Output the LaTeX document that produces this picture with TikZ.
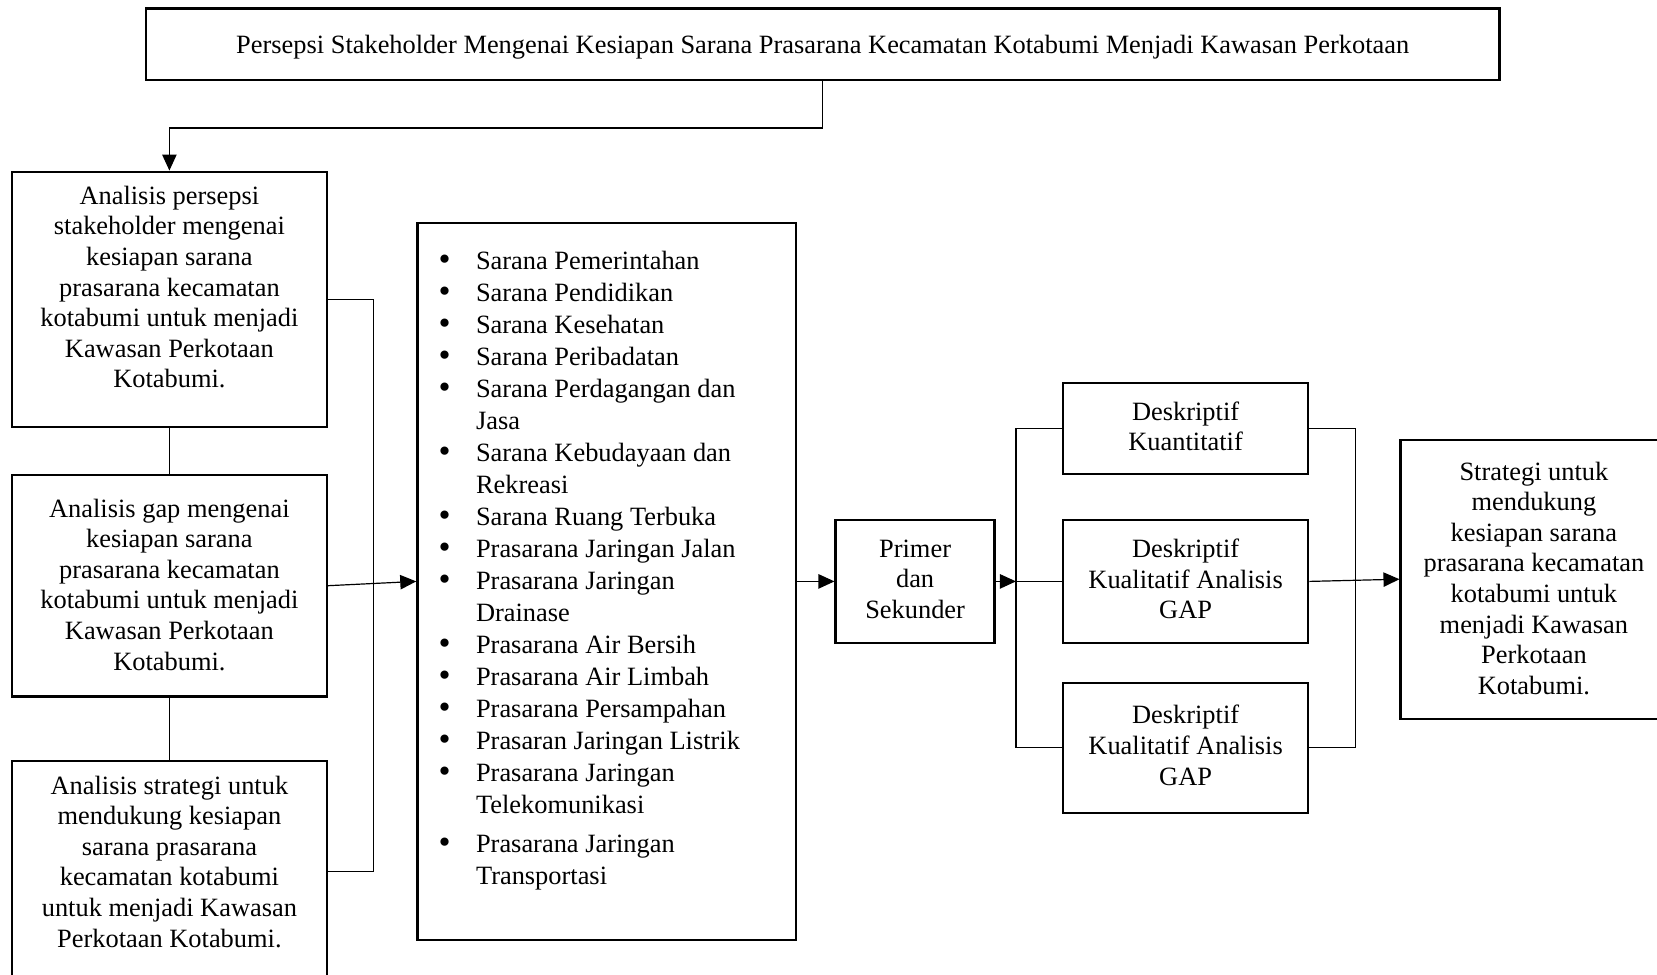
\documentclass[tikz,border=0pt]{standalone}
\usepackage{fontspec}
\setmainfont{Liberation Serif}
\usetikzlibrary{arrows.meta, positioning}

\newcommand{\blt}{\makebox[18.7pt][l]{\raisebox{-0.6pt}{\scalebox{1.3}{\textbullet}}}}
\newcommand{\cnt}{\makebox[18.7pt]{}}

\begin{document}
\begin{tikzpicture}[
    x=0.5pt, y=-0.5pt,
    box/.style={rectangle, draw=black, line width=1.15pt, align=center, inner sep=2pt, text depth=2.5pt, font=\fontsize{13.2}{15.3}\selectfont},
    listtext/.style={align=left, inner sep=0pt, font=\fontsize{13.2}{16}\selectfont},
    line/.style={line width=0.6pt},
    arrow/.style={line, -{Triangle[length=8pt, width=7.2pt]}}
]
\useasboundingbox (0,0) rectangle (1657,974);

\node[box, minimum width=676.7pt, minimum height=35.8pt, text depth=0pt] (title) at (822.7,44.2) {Persepsi Stakeholder Mengenai Kesiapan Sarana Prasarana Kecamatan Kotabumi Menjadi Kawasan Perkotaan};

\node[box, minimum width=157.3pt, minimum height=127.5pt, text depth=12.3pt] (a1) at (169.4,299.2) {Analisis persepsi\\stakeholder mengenai\\kesiapan sarana\\prasarana kecamatan\\kotabumi untuk menjadi\\Kawasan Perkotaan\\Kotabumi.};
\node[box, minimum width=157.3pt, minimum height=110.7pt, text depth=1.2pt, below=23pt of a1] (a2) {Analisis gap mengenai\\kesiapan sarana\\prasarana kecamatan\\kotabumi untuk menjadi\\Kawasan Perkotaan\\Kotabumi.};
\node[box, minimum width=157.3pt, minimum height=110.7pt, text depth=10pt, below=31pt of a2] (a3) {Analisis strategi untuk\\mendukung kesiapan\\sarana prasarana\\kecamatan kotabumi\\untuk menjadi Kawasan\\Perkotaan Kotabumi.};

\node[box, minimum width=189.3pt, minimum height=358.7pt] (lst) at (606.7,581.4) {};
\node[listtext, anchor=north west] (items) at ([xshift=11pt, yshift=-14.7pt]lst.north west) {\blt Sarana Pemerintahan\\
\blt Sarana Pendidikan\\
\blt Sarana Kesehatan\\
\blt Sarana Peribadatan\\
\blt Sarana Perdagangan dan\\
\cnt Jasa\\
\blt Sarana Kebudayaan dan\\
\cnt Rekreasi\\
\blt Sarana Ruang Terbuka\\
\blt Prasarana Jaringan Jalan\\
\blt Prasarana Jaringan\\
\cnt Drainase\\
\blt Prasarana Air Bersih\\
\blt Prasarana Air Limbah\\
\blt Prasarana Persampahan\\
\blt Prasaran Jaringan Listrik\\
\blt Prasarana Jaringan\\
\cnt Telekomunikasi\\[3.2pt]
\blt Prasarana Jaringan\\
\cnt Transportasi};

\node[box, minimum width=79.5pt, minimum height=61.7pt, right=18.65pt of lst] (primer) {Primer\\dan\\Sekunder};
\node[box, minimum width=122.7pt, minimum height=61.7pt, right=33pt of primer] (dka1) {Deskriptif\\Kualitatif Analisis\\GAP};
\node[box, minimum width=122.7pt, minimum height=45.5pt, above=21.65pt of dka1] (dk) {Deskriptif\\Kuantitatif};
\node[box, minimum width=122.7pt, minimum height=65pt, below=18.65pt of dka1] (dka2) {Deskriptif\\Kualitatif Analisis\\GAP};
\node[box, minimum width=133.3pt, minimum height=139.5pt, text depth=1.2pt, right=45pt of dka1, yshift=1.1pt] (strat) {Strategi untuk\\mendukung\\kesiapan sarana\\prasarana kecamatan\\kotabumi untuk\\menjadi Kawasan\\Perkotaan\\Kotabumi.};

\draw[arrow] (title.south) -- ++(0,46.8) -| (a1.north);
\draw[line] (a1) -- (a2);
\draw[line] (a2) -- (a3);
\draw[line] (a1.east) -- ++(46,0) |- (a3.east);
\draw[arrow] (a2.east) -- (lst.west);
\draw[arrow] (lst.east) -- (primer.west);
\draw[arrow] (primer.east) -- ++(20.2,0) coordinate (fork);
\draw[line] (dk.west) -| (fork) |- (dka2.west);
\draw[line] (fork) -- (dka1.west);
\draw[line] (dk.east) -- ++(46,0) |- (dka2.east);
\draw[arrow] (dka1.east) -- (strat.west);

\end{tikzpicture}
\end{document}
